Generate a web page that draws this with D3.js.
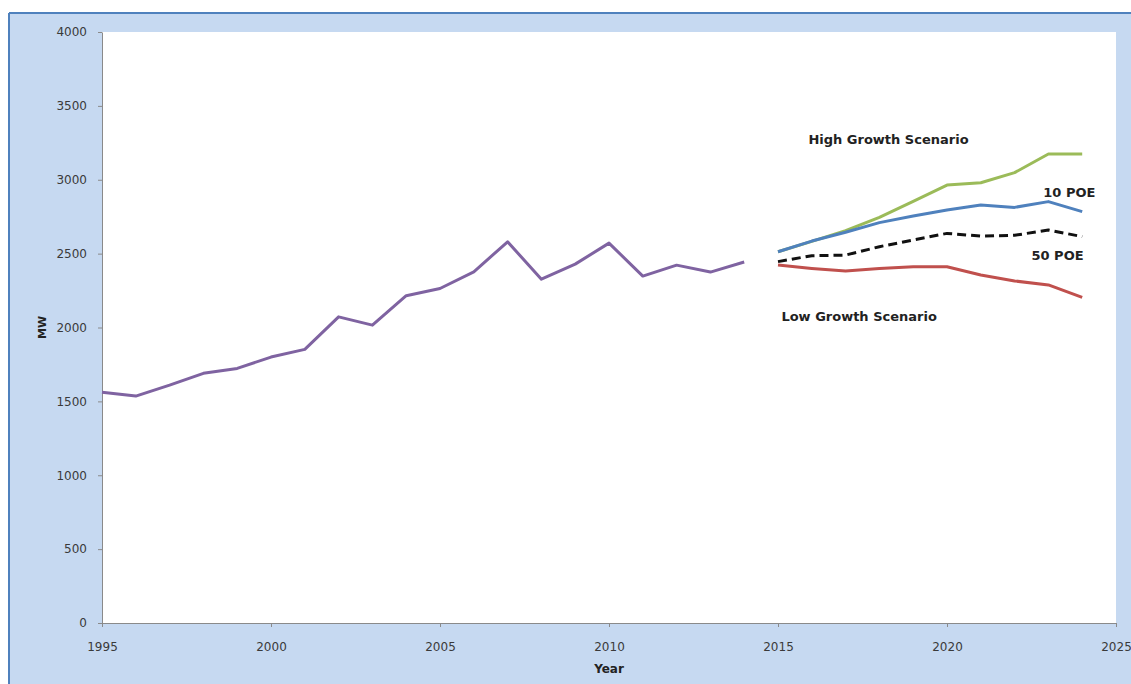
<!DOCTYPE html>
<html>
<head>
<meta charset="utf-8">
<script src="https://cdn.jsdelivr.net/npm/d3@7"></script>
<style>
  body { margin: 0; background: #fff; }
  #chart-container { width: 1131px; height: 684px; }
  text { font-family: "DejaVu Sans", sans-serif; }
</style>
</head>
<body>
<div id="chart-container"></div>
<script>
const histYears = [1995, 1996, 1997, 1998, 1999, 2000, 2001, 2002, 2003, 2004,
                   2005, 2006, 2007, 2008, 2009, 2010, 2011, 2012, 2013, 2014]
const histValues = [1561, 1536, 1610, 1690, 1723, 1800, 1852, 2072, 2016, 2215,
                    2264, 2377, 2580, 2327, 2429, 2571, 2348, 2422, 2375, 2443]

const projYears = [2015, 2016, 2017, 2018, 2019, 2020, 2021, 2022, 2023, 2024]
const highGrowth = [2513, 2583, 2655, 2746, 2854, 2964, 2980, 3048, 3174, 3174]
const poe10 = [2513, 2585, 2645, 2710, 2755, 2795, 2829, 2813, 2852, 2784]
const poe50 = [2446, 2486, 2490, 2547, 2592, 2637, 2619, 2624, 2660, 2615]
const lowGrowth = [2423, 2400, 2382, 2400, 2411, 2411, 2355, 2315, 2288, 2204]

const xTicks = [1995, 2000, 2005, 2010, 2015, 2020, 2025]
const yTicks = [0, 500, 1000, 1500, 2000, 2500, 3000, 3500, 4000]

const labels = [
    {text: "High Growth Scenario", year: 2015.9, value: 3270},
    {text: "10 POE", year: 2022.85, value: 2915},
    {text: "50 POE", year: 2022.5, value: 2488},
    {text: "Low Growth Scenario", year: 2015.1, value: 2072}
]

const W = 1131, H = 684
const margin = {top: 32, right: 15, bottom: 60, left: 102}
const width = 1116 - margin.left
const height = 623 - margin.top

const root = d3.select("#chart-container")
    .append("svg")
        .attr("width", W)
        .attr("height", H)

// light blue chart area with border
root.append("rect")
    .attr("x", 9).attr("y", 13)
    .attr("width", W - 9).attr("height", H - 13)
    .attr("fill", "#c6d9f1")
root.append("line")
    .attr("x1", 9).attr("x2", W).attr("y1", 13).attr("y2", 13)
    .attr("stroke", "#4f81bd").attr("stroke-width", 2)
root.append("line")
    .attr("x1", 9).attr("x2", 9).attr("y1", 13).attr("y2", H)
    .attr("stroke", "#4f81bd").attr("stroke-width", 2)

const svg = root.append("g")
    .attr("transform", `translate(${margin.left}, ${margin.top})`)

svg.append("rect")
    .attr("width", width).attr("height", height)
    .attr("fill", "#fff")

const x = d3.scaleLinear()
    .domain([1995, 2025])
    .range([0, width])
const y = d3.scaleLinear()
    .domain([0, 4000])
    .range([height, 0])

const xAxis = svg.append("g")
    .attr("transform", `translate(0, ${height})`)
    .call(d3.axisBottom(x).tickValues(xTicks).tickFormat(d3.format("d")).tickSize(4).tickSizeOuter(0).tickPadding(15))
const yAxis = svg.append("g")
    .call(d3.axisLeft(y).tickValues(yTicks).tickFormat(d3.format("d")).tickSize(4).tickSizeOuter(0).tickPadding(11))

for (const ax of [xAxis, yAxis]) {
    ax.selectAll("path, line").attr("stroke", "#8a8a8a")
    ax.selectAll("text")
        .attr("fill", "#3a3a3a")
        .style("font-size", "12px")
        .style("font-family", "'DejaVu Sans', sans-serif")
}

svg.append("text")
    .attr("x", x(2010)).attr("y", height + 50)
    .attr("text-anchor", "middle")
    .attr("font-weight", "bold").attr("font-size", 12).attr("fill", "#222")
    .text("Year")
svg.append("text")
    .attr("transform", `translate(${-56}, ${y(2000)}) rotate(-90)`)
    .attr("text-anchor", "middle")
    .attr("font-weight", "bold").attr("font-size", 11).attr("fill", "#222")
    .text("MW")

const line = d3.line()
    .x(d => x(d[0]))
    .y(d => y(d[1]))

const series = [
    {years: histYears, values: histValues, color: "#7f63a1", dash: null},
    {years: projYears, values: lowGrowth, color: "#c0504d", dash: null},
    {years: projYears, values: highGrowth, color: "#9bbb59", dash: null},
    {years: projYears, values: poe10, color: "#4f81bd", dash: null},
    {years: projYears, values: poe50, color: "#111", dash: "9,5"}
]

series.forEach(s => {
    svg.append("path")
        .datum(d3.zip(s.years, s.values))
        .attr("fill", "none")
        .attr("stroke", s.color)
        .attr("stroke-width", 3)
        .attr("stroke-dasharray", s.dash)
        .attr("stroke-linejoin", "round")
        .attr("d", line)
})

svg.selectAll(".seriesLabel")
    .data(labels)
    .enter().append("text")
    .attr("class", "seriesLabel")
    .attr("x", d => x(d.year))
    .attr("y", d => y(d.value))
    .attr("dy", "0.35em")
    .attr("font-weight", "bold")
    .attr("font-size", 13)
    .attr("fill", "#222")
    .text(d => d.text)
</script>
</body>
</html>
